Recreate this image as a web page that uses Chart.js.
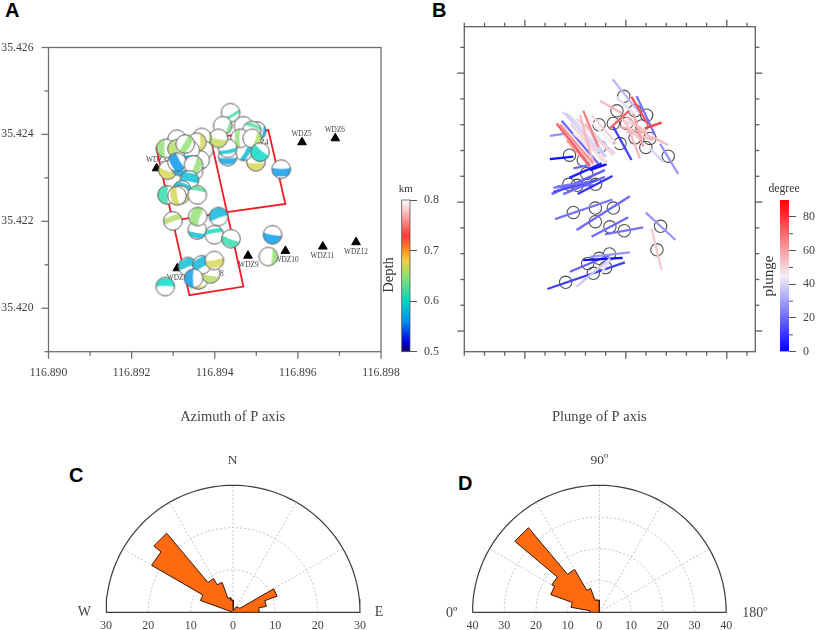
<!DOCTYPE html>
<html>
<head>
<meta charset="utf-8">
<title>P axis orientation</title>
<script src="https://cdn.jsdelivr.net/npm/chart.js@4"></script>
<style>
html, body { margin: 0; padding: 0; background: #fff; }
#page { position: relative; width: 816px; height: 630px; overflow: hidden; }
canvas { position: absolute; filter: blur(0.45px); }
.letter { position: absolute; font: bold 20px "Liberation Sans", sans-serif; line-height: 20px; color: #000; }
</style>
</head>
<body>
<div id="page">
  <div class="letter" style="left:5px;top:0px">A</div>
  <div class="letter" style="left:432px;top:0px">B</div>
  <div class="letter" style="left:69px;top:465px">C</div>
  <div class="letter" style="left:458px;top:473px">D</div>
  <canvas id="mapA" width="420" height="355" style="left:0;top:30px"></canvas>
  <canvas id="depthBar" width="60" height="190" style="left:380px;top:180px"></canvas>
  <canvas id="mapB" width="340" height="360" style="left:440px;top:10px"></canvas>
  <canvas id="plungeBar" width="56" height="190" style="left:760px;top:180px"></canvas>
  <canvas id="roseC" width="350" height="230" style="left:60px;top:400px"></canvas>
  <canvas id="roseD" width="350" height="230" style="left:430px;top:400px"></canvas>
</div>
<script>
// Panel A: axes
const lonTicks = [116.890, 116.892, 116.894, 116.896, 116.898];
const lonMinorTicks = [116.891, 116.893, 116.895, 116.897];
const latTicks = [35.420, 35.422, 35.424, 35.426];
const latMinorTicks = [35.419, 35.421, 35.423, 35.425];

// Panel A: stations
const stationLon = [116.8961, 116.8969, 116.8926, 116.8931, 116.8948, 116.8957, 116.8966, 116.8974];
const stationLat = [35.42382, 35.42391, 35.42322, 35.42092, 35.42121, 35.42132, 35.42142, 35.42152];
const labelNames = ['WDZ5', 'WDZ6', 'WDZ3', 'WDZ4', 'WDZ7', 'WDZ8', 'WDZ9', 'WDZ10', 'WDZ11', 'WDZ12'];
const labelLon = [116.89609, 116.89689, 116.89259, 116.89505, 116.89309, 116.89397, 116.89481, 116.89573, 116.89659, 116.89740];
const labelLat = [35.42401, 35.42409, 35.42340, 35.42380, 35.42069, 35.42079, 35.42100, 35.42110, 35.42120, 35.42129];

// Panel A: red fault outlines
const faultLon = [116.89259, 116.89390, 116.89469, 116.89339, 116.89259, null, 116.89297, 116.89429, null, 116.89390, 116.89529, 116.89570, 116.89429];
const faultLat = [35.42371, 35.42391, 35.42050, 35.42030, 35.42371, null, 35.42201, 35.42221, null, 35.42391, 35.42410, 35.42240, 35.42221];

// Panel A: focal mechanisms, back to front
const ballLon = [116.89438, 116.89469, 116.89419, 116.89501, 116.89489, 116.89499, 116.89469, 116.89431, 116.89461, 116.89431, 116.89490, 116.89409, 116.89509, 116.89560,
  116.89369, 116.89309, 116.89282, 116.89373, 116.89357, 116.89365, 116.89349, 116.89341, 116.89287, 116.89309, 116.89329, 116.89317, 116.89309, 116.89349,
  116.89339, 116.89321, 116.89285, 116.89317, 116.89309, 116.89358,
  116.89358, 116.89409, 116.89359, 116.89299, 116.89399, 116.89439, 116.89539, 116.89529,
  116.89281, 116.89335, 116.89361, 116.89390, 116.89369, 116.89349, 116.89399];
const ballLat = [35.42450, 35.42420, 35.42420, 35.42408, 35.42409, 35.42337, 35.42361, 35.42349, 35.42391, 35.42368, 35.42391, 35.42391, 35.42359, 35.42320,
  35.42393, 35.42389, 35.42368, 35.42364, 35.42382, 35.42341, 35.42315, 35.42364, 35.42318, 35.42367, 35.42378, 35.42326, 35.42336, 35.42330,
  35.42295, 35.42272, 35.42261, 35.42261, 35.42259, 35.42261,
  35.42180, 35.42211, 35.42211, 35.42201, 35.42169, 35.42160, 35.42169, 35.42119,
  35.42050, 35.42096, 35.42065, 35.42079, 35.42100, 35.42069, 35.42110];
const ballDepth = [0.615, 0.585, 0.64, 0.57, 0.625, 0.672, 0.58, 0.57, 0.65, 0.585, 0.66, 0.665, 0.6, 0.565,
  0.66, 0.64, 0.65, 0.66, 0.672, 0.585, 0.585, 0.57, 0.672, 0.66, 0.65, 0.57, 0.56, 0.65,
  0.585, 0.585, 0.615, 0.672, 0.672, 0.625,
  0.585, 0.58, 0.65, 0.66, 0.6, 0.615, 0.565, 0.65,
  0.6, 0.585, 0.672, 0.66, 0.58, 0.565, 0.672];
const ballStrike = [60, 90, 20, 10, -70, 90, 30, 90, 180, 80, 20, 100, 130, 90,
  0, 30, 180, 135, 0, 90, 90, 90, 110, 160, 30, 90, 150, 20,
  -80, -70, 180, 60, 170, -80,
  100, -110, 200, -110, -100, 110, 100, 5,
  -90, -110, 90, 100, -120, 180, 80];
const ballInner = [0.15, 0.7, 0.5, 0.6, 0.3, 0.1, 0.1, 0.1, 0, 0.1, 0.3, 0.05, -0.3, -0.1,
  0.7, 0.8, 0.1, 0.2, 0.3, 0.7, 0.7, 0.5, 0.05, -0.1, -0.2, 0.3, -0.4, 0.05,
  -0.2, 0.05, -0.1, 0.2, -0.1, 0.4,
  0.25, -0.2, -0.3, -0.1, 0.15, 0, -0.05, 0.35,
  0, -0.1, 0.6, 0.15, -0.3, 0, -0.1];
const ballOuter = [0.45, 0.95, 0.9, 0.9, 0.7, 0.85, 0.6, 0.75, 0.5, 0.5, 0.85, 0.85, 0.9, 0.7,
  0.95, 0.95, 0.9, 0.8, 0.8, 0.95, 0.95, 0.9, 0.8, 0.85, 0.5, 0.9, 0.6, 0.75,
  0.7, 0.7, 0.9, 0.8, 0.6, 0.8,
  0.8, 0.85, 0.7, 0.5, 0.6, 0.8, 0.9, 0.85,
  0.8, 0.8, 0.9, 0.85, 0.7, 0.9, 0.7];

// Depth colour bar
const depthTicks = [0.5, 0.6, 0.7, 0.8];
const depthStopValues = [0.5, 0.52, 0.56, 0.6, 0.65, 0.68, 0.7, 0.73, 0.76, 0.8];
const depthStopColors = ['#10006a', '#0000e0', '#0090f0', '#00d8c0', '#90e070', '#f0d040', '#ff9020', '#ff3838', '#ff9090', '#ffffff'];

// Panel B: axes, in grid cells of the map
const cellMajorX = [3, 8, 13];
const cellMinorX = [0, 1, 2, 4, 5, 6, 7, 9, 10, 11, 12, 14];
const cellMajorY = [0.8, 5.8, 10.8];
const cellMinorY = [1.8, 2.8, 3.8, 4.8, 6.8, 7.8, 8.8, 9.8, 11.8];

// Panel B: epicentres
const circleX = [7.90, 7.56, 9.03, 8.45, 6.67, 7.38, 8.04, 8.78, 7.71, 8.45, 9.19, 8.99, 10.10, 5.21, 5.89, 6.72, 5.18, 5.59, 6.50, 6.06, 5.40, 6.49, 7.38, 6.49, 7.21, 7.92, 9.72, 9.54, 7.19, 6.68, 6.11, 7.00, 6.39, 5.02];
const circleY = [9.90, 9.34, 9.17, 9.34, 8.80, 8.85, 8.85, 8.75, 8.07, 8.29, 8.27, 7.92, 7.58, 7.62, 7.43, 7.95, 6.49, 6.45, 6.49, 6.91, 5.40, 5.57, 5.57, 5.04, 4.84, 4.69, 4.86, 3.95, 3.79, 3.62, 3.42, 3.26, 3.04, 2.69];

// Panel B: P axis segments, back to front
const segX1 = [4.11, 5.23, 5.89, 6.22, 5.56, 6.80, 4.49, 5.56, 6.30, 6.96, 8.99, 9.27,
  4.32, 4.41, 4.90, 5.61, 5.20, 4.41, 5.40, 4.24, 6.22, 4.57,
  5.07, 5.56, 5.23, 4.74, 5.97, 5.73, 5.31, 6.39, 7.87, 8.04, 8.37, 7.54,
  4.87, 5.23, 6.14, 4.24, 4.82, 6.30, 6.06, 5.56, 5.40, 4.90, 5.07, 5.73, 4.74, 5.89, 4.57,
  7.34, 6.72, 9.69, 9.19, 9.27, 8.04, 7.71, 7.71, 8.04, 8.53, 7.38, 8.28, 7.21, 8.94];
const segY1 = [2.43, 3.10, 3.55, 3.68, 2.52, 3.04, 5.14, 4.72, 4.46, 4.55, 5.39, 4.78,
  6.11, 6.36, 6.11, 6.11, 6.74, 6.20, 7.11, 7.47, 7.04, 6.40,
  9.24, 8.85, 8.85, 8.46, 8.85, 8.66, 8.07, 8.46, 8.98, 8.53, 9.24, 9.88,
  9.30, 9.17, 8.66, 8.37, 8.95, 9.17, 9.11, 9.04, 8.46, 8.59, 8.20, 9.17, 8.82, 9.34, 8.85,
  10.56, 9.73, 8.07, 7.88, 8.33, 8.85, 8.72, 9.11, 9.11, 9.91, 8.72, 9.88, 8.66, 8.66];
const segX2 = [7.95, 7.21, 7.84, 8.20, 7.13, 7.21, 7.34, 8.20, 8.12, 8.86, 10.46, 9.77,
  6.96, 6.39, 6.96, 7.34, 6.80, 6.55, 6.22, 5.40, 7.05, 6.22,
  6.55, 6.88, 7.05, 6.06, 7.13, 6.80, 6.39, 7.46, 9.03, 9.36, 8.86, 8.37,
  6.96, 7.05, 6.96, 5.07, 6.63, 7.54, 7.46, 7.38, 7.05, 6.06, 6.22, 6.39, 6.39, 6.63, 6.22,
  8.70, 7.79, 10.59, 9.85, 10.10, 8.70, 9.03, 8.70, 9.36, 9.44, 8.28, 9.11, 8.15, 9.77];
const segY2 = [3.46, 3.75, 3.64, 3.85, 3.55, 3.62, 5.90, 6.03, 5.21, 4.82, 4.33, 3.17,
  7.04, 6.46, 6.78, 6.81, 7.30, 6.65, 7.24, 7.56, 7.27, 6.59,
  7.82, 7.62, 7.30, 7.56, 7.82, 7.43, 7.24, 7.69, 8.59, 8.20, 7.95, 9.24,
  7.56, 7.56, 7.56, 8.46, 7.30, 8.07, 7.95, 7.62, 7.36, 7.43, 7.17, 7.30, 7.30, 7.95, 7.21,
  9.24, 9.24, 6.89, 7.36, 8.01, 7.49, 8.46, 8.20, 8.20, 8.40, 7.43, 8.79, 9.34, 8.88];
const segPlunge = [12, 18, 3, 28, 38, 42, 22, 20, 20, 22, 28, 52,
  18, 22, 20, 10, 6, 15, 20, 3, 2, 22,
  38, 45, 50, 45, 55, 50, 42, 40, 50, 55, 60, 42,
  40, 42, 38, 28, 20, 50, 45, 50, 48, 52, 60, 55, 62, 65, 72,
  35, 55, 28, 40, 55, 55, 58, 52, 55, 22, 12, 75, 72, 78];

// Plunge colour bar
const plungeTicks = [0, 20, 40, 60, 80];
const plungeMinorTicks = [10, 30, 50, 70];
const plungeStopValues = [0, 45, 90];
const plungeStopColors = ['#0000ff', '#f4eef4', '#ff0000'];

// Panel C: azimuth rose, 10 degree bins from west through north to east
const azimuthBins = [-90, -80, -70, -60, -50, -40, -30, -20, -10, 0, 10, 20, 30, 40, 50, 60, 70, 80];
const azimuthCounts = [0, 0, 8.2, 22.2, 24.4, 9.2, 7.5, 3.5, 2.9, 0.5, 0.5, 0.8, 1.5, 1.7, 1.8, 11.1, 8, 6.2];
const azimuthAxisTicks = [-30, -20, -10, 0, 10, 20, 30];
const azimuthRings = [10, 20];

// Panel D: plunge rose, 10 degree bins
const plungeBins = [0, 10, 20, 30, 40, 50, 60, 70, 80];
const plungeCounts = [3, 9.1, 16.3, 17.3, 34.8, 15.6, 8, 4, 3.8];
const plungeAxisTicks = [-40, -30, -20, -10, 0, 10, 20, 30, 40];
const plungeRings = [10, 20, 30];

const spokeAngles = [-60, -30, 0, 30, 60];
const SERIF = '"Liberation Serif", "Times New Roman", serif';
const LABEL_GREY = '#444';

function hexToRgb(hex) {
    return [1, 3, 5].map(i => parseInt(hex.slice(i, i + 2), 16));
}

function rampColor(value, stops, colors) {
    let i = 0;
    while (i < stops.length - 2 && value > stops[i + 1]) i++;
    const t = Math.min(1, Math.max(0, (value - stops[i]) / (stops[i + 1] - stops[i])));
    const a = hexToRgb(colors[i]);
    const b = hexToRgb(colors[i + 1]);
    return `rgb(${a.map((c, k) => Math.round(c + (b[k] - c) * t)).join(',')})`;
}

/**
 * Frame, tick marks and free text that the scales do not draw themselves
 */
function panelDecor(cfg) {
    return {
        id: 'panelDecor',
        beforeDatasetsDraw(chart) {
            if (cfg.under) cfg.under(chart);
        },
        beforeDatasetDraw(chart, args) {
            const ds = chart.data.datasets[args.index];
            if (!ds.closedFill) return;
            const ctx = chart.ctx;
            const pts = args.meta.data;
            ctx.save();
            ctx.beginPath();
            pts.forEach((p, i) => i ? ctx.lineTo(p.x, p.y) : ctx.moveTo(p.x, p.y));
            ctx.closePath();
            ctx.fillStyle = ds.closedFill;
            ctx.fill();
            ctx.restore();
        },
        afterDraw(chart) {
            const ctx = chart.ctx;
            const area = chart.chartArea;
            ctx.save();
            ctx.strokeStyle = cfg.lineColor || '#707070';
            ctx.lineWidth = cfg.lineWidth || 1.3;
            if (cfg.frame) ctx.strokeRect(area.left, area.top, area.right - area.left, area.bottom - area.top);
            (cfg.ticks || []).forEach(t => {
                const scale = chart.scales[t.scale];
                t.values.forEach(v => {
                    const p = scale.getPixelForValue(v);
                    ctx.beginPath();
                    if (t.side === 'left') { ctx.moveTo(area.left, p); ctx.lineTo(area.left - t.length, p); }
                    if (t.side === 'right') { ctx.moveTo(area.right, p); ctx.lineTo(area.right + t.length, p); }
                    if (t.side === 'top') { ctx.moveTo(p, area.top); ctx.lineTo(p, area.top - t.length); }
                    if (t.side === 'bottom') { ctx.moveTo(p, area.bottom); ctx.lineTo(p, area.bottom + t.length); }
                    ctx.stroke();
                });
            });
            (cfg.texts || []).forEach(t => {
                ctx.save();
                ctx.translate(t.x, t.y);
                if (t.rotate) ctx.rotate(t.rotate * Math.PI / 180);
                ctx.font = t.font;
                ctx.fillStyle = t.color || LABEL_GREY;
                ctx.textAlign = 'center';
                ctx.textBaseline = 'middle';
                ctx.fillText(t.text, 0, 0);
                ctx.restore();
            });
            ctx.restore();
        }
    };
}

function pinWidth(width) {
    return scale => { scale.width = width; scale.paddingTop = 0; scale.paddingBottom = 0; };
}

function pinHeight(height) {
    return scale => { scale.height = height; scale.paddingLeft = 0; scale.paddingRight = 0; };
}

function useTicks(values) {
    return scale => { scale.ticks = values.map(v => ({ value: v })); };
}

function ballImage(strike, inner, outer, depth) {
    const img = document.createElement('canvas');
    img.width = 22;
    img.height = 22;
    const ctx = img.getContext('2d');
    const r = 9.3;
    ctx.translate(11, 11);
    ctx.beginPath();
    ctx.arc(0, 0, r, 0, Math.PI * 2);
    ctx.fillStyle = '#fff';
    ctx.fill();
    ctx.save();
    ctx.clip();
    ctx.rotate(strike * Math.PI / 180);
    ctx.beginPath();
    ctx.moveTo(inner * r, -r);
    ctx.quadraticCurveTo((inner + 0.15) * r, 0, inner * r, r);
    ctx.lineTo(outer * r, r);
    ctx.quadraticCurveTo((outer + 0.15) * r, 0, outer * r, -r);
    ctx.closePath();
    ctx.globalAlpha = 0.8;
    ctx.fillStyle = rampColor(depth, depthStopValues, depthStopColors);
    ctx.fill();
    ctx.restore();
    ctx.beginPath();
    ctx.arc(0, 0, r, 0, Math.PI * 2);
    ctx.strokeStyle = '#5c5c5c';
    ctx.lineWidth = 1;
    ctx.stroke();
    return img;
}

function createMapA() {
    new Chart(document.getElementById('mapA'), {
        type: 'scatter',
        data: {
            datasets: [
                {
                    data: ballLon.map((x, i) => ({ x: x, y: ballLat[i] })),
                    pointStyle: ballLon.map((x, i) => ballImage(ballStrike[i], ballInner[i], ballOuter[i], ballDepth[i])),
                    pointRadius: 9
                },
                {
                    data: stationLon.map((x, i) => ({ x: x, y: stationLat[i] })),
                    pointStyle: 'triangle',
                    pointRadius: 5,
                    backgroundColor: '#000',
                    borderColor: '#000'
                },
                {
                    data: faultLon.map((x, i) => ({ x: x, y: faultLat[i] })),
                    showLine: true,
                    spanGaps: false,
                    pointRadius: 0,
                    borderColor: '#ee1c25',
                    borderWidth: 1.8
                }
            ]
        },
        options: {
            responsive: false,
            animation: false,
            layout: { padding: { left: 0, top: 17.5, right: 39, bottom: 0 } },
            plugins: { legend: { display: false }, tooltip: { enabled: false } },
            scales: {
                x: {
                    type: 'linear', min: 116.890, max: 116.898,
                    grid: { display: false, drawTicks: false },
                    border: { display: false },
                    afterBuildTicks: useTicks(lonTicks),
                    afterFit: pinHeight(33.3),
                    ticks: {
                        autoSkip: false, maxRotation: 0, padding: 14,
                        color: LABEL_GREY, font: { family: SERIF, size: 11.7 },
                        callback: v => v.toFixed(3)
                    }
                },
                y: {
                    type: 'linear', min: 35.419, max: 35.426,
                    grid: { display: false, drawTicks: false },
                    border: { display: false },
                    afterBuildTicks: useTicks(latTicks),
                    afterFit: pinWidth(48.5),
                    ticks: {
                        autoSkip: false, padding: 15,
                        color: LABEL_GREY, font: { family: SERIF, size: 11.7 },
                        callback: v => v.toFixed(3)
                    }
                }
            }
        },
        plugins: [panelDecor({
            frame: true,
            ticks: [
                { scale: 'x', side: 'bottom', values: lonTicks, length: 7 },
                { scale: 'x', side: 'bottom', values: lonMinorTicks, length: 4 },
                { scale: 'y', side: 'left', values: latTicks, length: 7 },
                { scale: 'y', side: 'left', values: latMinorTicks, length: 4 }
            ],
            under(chart) {
                const ctx = chart.ctx;
                ctx.save();
                ctx.font = '7.3px ' + SERIF;
                ctx.fillStyle = '#444';
                ctx.textAlign = 'center';
                ctx.textBaseline = 'middle';
                labelNames.forEach((name, i) => {
                    ctx.fillText(name, chart.scales.x.getPixelForValue(labelLon[i]), chart.scales.y.getPixelForValue(labelLat[i]));
                });
                ctx.restore();
            }
        })]
    });
}

function createMapB() {
    const segments = segX1.map((x, i) => ({
        data: [{ x: x, y: segY1[i] }, { x: segX2[i], y: segY2[i] }],
        showLine: true,
        pointRadius: 0,
        borderColor: rampColor(segPlunge[i], plungeStopValues, plungeStopColors),
        borderWidth: 2.3
    })).reverse();
    const circles = {
        data: circleX.map((x, i) => ({ x: x, y: circleY[i] })),
        pointRadius: 6.2,
        backgroundColor: 'rgba(0,0,0,0)',
        borderColor: '#505050',
        borderWidth: 1.1
    };
    new Chart(document.getElementById('mapB'), {
        type: 'scatter',
        data: { datasets: segments.concat([circles]) },
        options: {
            responsive: false,
            animation: false,
            layout: { padding: { left: 24.3, top: 16.7, right: 24.7, bottom: 18.3 } },
            plugins: { legend: { display: false }, tooltip: { enabled: false } },
            scales: {
                x: { type: 'linear', min: 0, max: 14.41, display: false },
                y: { type: 'linear', min: 0, max: 12.6, display: false }
            }
        },
        plugins: [panelDecor({
            frame: true,
            lineColor: '#606060',
            ticks: [
                { scale: 'x', side: 'top', values: cellMajorX, length: 7 },
                { scale: 'x', side: 'top', values: cellMinorX, length: 4 },
                { scale: 'x', side: 'bottom', values: cellMajorX, length: 7 },
                { scale: 'x', side: 'bottom', values: cellMinorX, length: 4 },
                { scale: 'y', side: 'left', values: cellMajorY, length: 7 },
                { scale: 'y', side: 'left', values: cellMinorY, length: 4 },
                { scale: 'y', side: 'right', values: cellMajorY, length: 7 },
                { scale: 'y', side: 'right', values: cellMinorY, length: 4 }
            ]
        })]
    });
}

function createColorBar(id, min, max, ticks, stops, colors, padLeft, axisWidth, decor) {
    new Chart(document.getElementById(id), {
        type: 'bar',
        data: {
            labels: [''],
            datasets: [{
                data: [[min, max]],
                barPercentage: 1,
                categoryPercentage: 1,
                backgroundColor(context) {
                    const area = context.chart.chartArea;
                    if (!area) return colors[0];
                    const g = context.chart.ctx.createLinearGradient(0, area.bottom, 0, area.top);
                    stops.forEach((s, i) => g.addColorStop((s - min) / (max - min), colors[i]));
                    return g;
                }
            }]
        },
        options: {
            responsive: false,
            animation: false,
            layout: { padding: { left: padLeft, top: 20, right: 0, bottom: 18.3 } },
            plugins: { legend: { display: false }, tooltip: { enabled: false } },
            scales: {
                x: { display: false },
                y: {
                    type: 'linear', position: 'right', min: min, max: max,
                    grid: { drawOnChartArea: false, tickLength: 7, color: '#555', tickWidth: 1 },
                    border: { display: false },
                    afterBuildTicks: useTicks(ticks),
                    afterFit: pinWidth(axisWidth),
                    ticks: { autoSkip: false, padding: 7, color: LABEL_GREY, font: { family: SERIF, size: 12 } }
                }
            }
        },
        plugins: [panelDecor(decor)]
    });
}

function roseChart(id, bins, counts, toAzimuth, axisTicks, rings, rMax, padLeft, padRight, texts) {
    const toXY = (r, az) => ({ x: r * Math.sin(az * Math.PI / 180), y: r * Math.cos(az * Math.PI / 180) });
    const arc = r => {
        const pts = [];
        for (let az = -90; az <= 90; az += 3) pts.push(toXY(r, az));
        return pts;
    };
    const wedge = [{ x: 0, y: 0 }];
    bins.forEach((b, i) => {
        wedge.push(toXY(counts[i], toAzimuth(b)));
        wedge.push(toXY(counts[i], toAzimuth(b + 10)));
    });
    wedge.push({ x: 0, y: 0 });
    const guide = data => ({ data: data, showLine: true, pointRadius: 0, borderColor: '#c4c4c4', borderWidth: 1, borderDash: [2, 2], clip: false });
    new Chart(document.getElementById(id), {
        type: 'scatter',
        data: {
            datasets: [
                { data: wedge, showLine: true, pointRadius: 0, borderColor: '#3a1600', borderWidth: 1, closedFill: '#ff6a10', tension: 0 },
                { data: arc(rMax).concat([toXY(rMax, -90)]), showLine: true, pointRadius: 0, borderColor: '#3c3c3c', borderWidth: 1.2, clip: false }
            ].concat(rings.map(r => guide(arc(r))))
             .concat(spokeAngles.map(a => guide([{ x: 0, y: 0 }, toXY(rMax, a)])))
        },
        options: {
            responsive: false,
            animation: false,
            layout: { padding: { left: padLeft, top: 85.3, right: padRight, bottom: 0 } },
            plugins: { legend: { display: false }, tooltip: { enabled: false } },
            scales: {
                x: {
                    type: 'linear', min: -rMax, max: rMax,
                    grid: { display: false, drawTicks: false },
                    border: { display: false },
                    afterBuildTicks: useTicks(axisTicks),
                    afterFit: pinHeight(17.7),
                    ticks: {
                        autoSkip: false, maxRotation: 0, padding: 6,
                        color: LABEL_GREY, font: { family: SERIF, size: 12 },
                        callback: v => Math.abs(v)
                    }
                },
                y: { type: 'linear', min: 0, max: rMax, display: false }
            }
        },
        plugins: [panelDecor({ texts: texts })]
    });
}

createMapA();
createMapB();

createColorBar('depthBar', 0.5, 0.8, depthTicks, depthStopValues, depthStopColors, 21.7, 30, {
    frame: true,
    lineColor: '#555',
    lineWidth: 0.8,
    texts: [
        { text: 'km', x: 25.7, y: 9, font: '11px ' + SERIF, color: '#333' },
        { text: 'Depth', x: 9, y: 95, rotate: -90, font: '14.5px ' + SERIF, color: '#333' }
    ]
});

createColorBar('plungeBar', 0, 90, plungeTicks, plungeStopValues, plungeStopColors, 20, 27, {
    lineColor: '#555',
    lineWidth: 1,
    ticks: [{ scale: 'y', side: 'right', values: plungeMinorTicks, length: 4 }],
    texts: [
        { text: 'degree', x: 24, y: 9, font: '11.7px ' + SERIF, color: '#333' },
        { text: 'plunge', x: 9, y: 96, rotate: -90, font: '15px ' + SERIF, color: '#333' }
    ]
});

roseChart('roseC', azimuthBins, azimuthCounts, b => b, azimuthAxisTicks, azimuthRings, 30, 46, 50, [
    { text: 'Azimuth of P axis', x: 172.7, y: 16.7, font: '14.5px ' + SERIF },
    { text: 'N', x: 172.7, y: 60, font: '13.5px ' + SERIF },
    { text: 'W', x: 24.3, y: 212, font: '14px ' + SERIF },
    { text: 'E', x: 319, y: 212.5, font: '14px ' + SERIF }
]);

roseChart('roseD', plungeBins, plungeCounts, b => b - 90, plungeAxisTicks, plungeRings, 40, 42.5, 53.8, [
    { text: 'Plunge of P axis', x: 169.3, y: 16.7, font: '14.5px ' + SERIF },
    { text: '90º', x: 169.3, y: 60.7, font: '13.5px ' + SERIF },
    { text: '0º', x: 21.7, y: 213, font: '14px ' + SERIF },
    { text: '180º', x: 325, y: 213, font: '14px ' + SERIF }
]);
</script>
</body>
</html>
